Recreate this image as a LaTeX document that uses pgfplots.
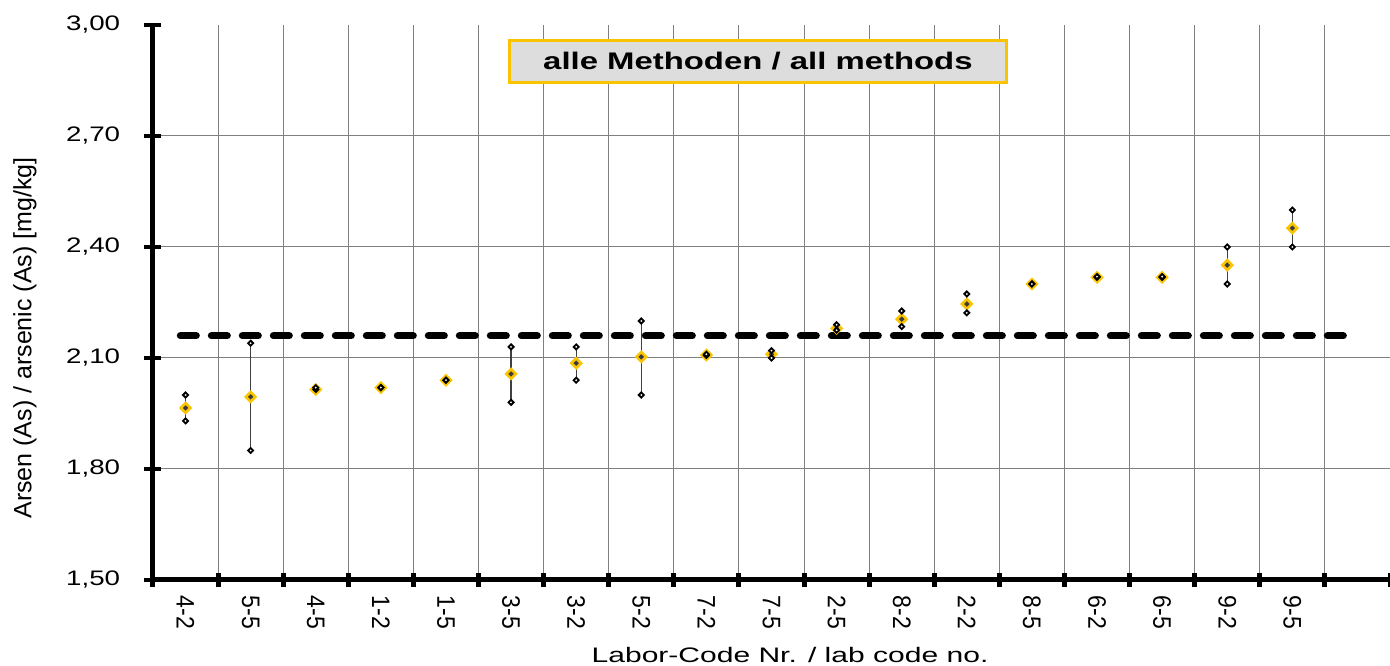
\documentclass[border=0pt]{standalone}
\usepackage{pgfplots}
\pgfplotsset{compat=1.18}
\usepackage{pgfplotstable}
\usepackage{fontspec}
\setmainfont{Liberation Sans}
\usetikzlibrary{calc}
\definecolor{gold}{RGB}{250,196,0}
\definecolor{darkc}{RGB}{60,60,60}
\definecolor{boxgray}{RGB}{221,221,221}
\pgfplotstableread{
x mean min max
0 1.965 1.93 2.00
1 1.995 1.85 2.14
2 2.015 2.015 2.02
3 2.02 2.02 2.02
4 2.04 2.04 2.04
5 2.057 1.98 2.13
6 2.086 2.04 2.13
7 2.103 2.00 2.20
8 2.108 2.107 2.11
9 2.11 2.10 2.12
10 2.18 2.175 2.19
11 2.205 2.185 2.227
12 2.246 2.222 2.273
13 2.30 2.30 2.30
14 2.318 2.318 2.32
15 2.318 2.318 2.32
16 2.351 2.30 2.40
17 2.451 2.40 2.50
}\datatab
\begin{document}
\begin{tikzpicture}
\begin{axis}[name=ax,
  scale only axis, width=618.5pt, height=277.5pt,
  xmin=-0.5, xmax=18.5, ymin=1.5, ymax=3.0,
  axis lines*=left,
  axis line style={line width=2.5pt, black},
  xtick={0,...,17},
  xticklabels={4-2,5-5,4-5,1-2,1-5,3-5,3-2,5-2,7-2,7-5,2-5,8-2,2-2,8-5,6-2,6-5,9-2,9-5},
  minor xtick={-0.5,0.5,...,18.5},
  xminorgrids=true, xmajorgrids=false,
  minor x grid style={gray, line width=0.5pt},
  major x tick style={draw=none},
  minor x tick style={black, line width=2.5pt},
  minor tick length=7pt,
  ytick={1.5,1.8,2.1,2.4,2.7},
  extra y ticks={3.0},
  extra y tick style={grid=none},
  ymajorgrids=true,
  major y grid style={gray, line width=0.5pt},
  ytick style={black, line width=2pt},
  major tick length=8.5pt,
  tick align=center,
  /pgf/number format/.cd, fixed, fixed zerofill, precision=2, use comma, assume math mode=true,
  /pgfplots/.cd,
  yticklabel style={font=\fontsize{10.5}{12}\selectfont, xshift=-7.5pt, xscale=1.32},
  xticklabel style={font=\fontsize{11.5}{13}\selectfont, rotate=-90, anchor=west, yscale=1.1},
  xlabel={\scalebox{1.43}[1]{Labor-Code Nr. / lab code no.}},
  ylabel={Arsen (As) / arsenic (As) [mg/kg]},
  xlabel style={font=\fontsize{10.5}{12}\selectfont, at={(axis description cs:0.515,-0.135)}, anchor=center},
  ylabel style={font=\fontsize{12.5}{14}\selectfont, at={(axis description cs:-0.1035,0.436)}, anchor=center},
  clip=false,
]
\addplot[draw=none, mark=none, forget plot,
  error bars/.cd, y dir=both, y explicit, error mark=none,
  error bar style={draw=black!75, solid, line width=0.6pt}]
  table[x=x, y=mean, y error plus expr=\thisrow{max}-\thisrow{mean}, y error minus expr=\thisrow{mean}-\thisrow{min}] {\datatab};
\addplot[black, line width=3.5pt, dash pattern=on 8pt off 7.5pt, line cap=round, mark=none]
  coordinates {(-0.08,2.16) (17.9,2.16)};
\addplot[only marks, mark=square*, mark size=1.7pt, mark options={rotate=45, draw=gold, fill=darkc, line width=1.3pt}]
  table[x=x, y=mean] {\datatab};
\addplot[only marks, mark=square*, mark size=0.9pt, mark options={rotate=45, draw=black, fill=white, line width=0.9pt}]
  table[x=x, y=min] {\datatab};
\addplot[only marks, mark=square*, mark size=0.9pt, mark options={rotate=45, draw=black, fill=white, line width=0.9pt}]
  table[x=x, y=max] {\datatab};
\node[draw=gold, line width=1.5pt, fill=boxgray, minimum width=248.5pt, minimum height=21pt, inner sep=0pt,
  font=\bfseries\fontsize{12}{14}\selectfont] at (axis description cs:0.489,0.935) {\scalebox{1.37}[1]{alle Methoden / all methods}};
\end{axis}
\pgfresetboundingbox
\path[use as bounding box] ($(ax.south west)+(-76.5pt,-43pt)$) rectangle ($(ax.north east)+(0pt,12.5pt)$);
\end{tikzpicture}
\end{document}
